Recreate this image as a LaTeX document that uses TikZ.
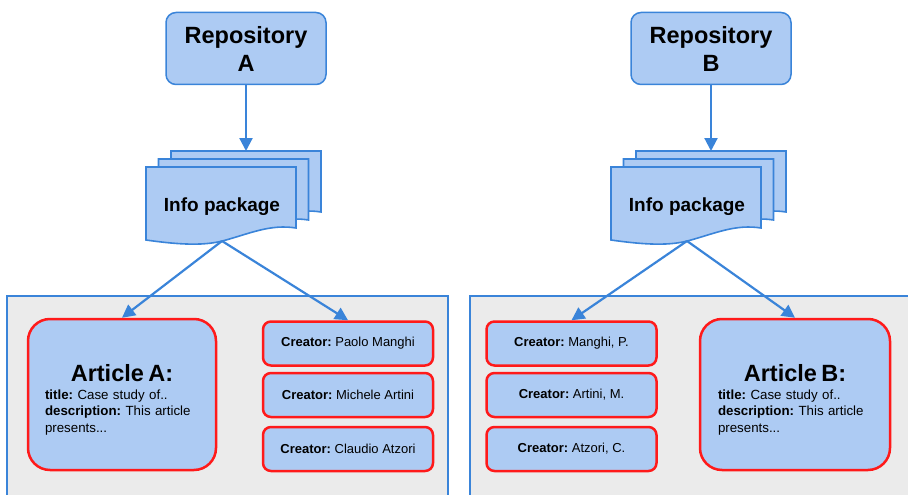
\documentclass[tikz,border=0pt]{standalone}
\usepackage{fontspec}
\setmainfont{Liberation Sans}
\usetikzlibrary{arrows.meta}
\definecolor{boxblue}{HTML}{ADCBF3}
\definecolor{lineblue}{HTML}{3A84D9}
\definecolor{panelgray}{HTML}{EBEBEB}
\definecolor{edgered}{HTML}{FF1A1A}
\frenchspacing

\begin{document}
\begin{tikzpicture}[x=1pt, y=-1pt]
    % Styles
    \tikzstyle{repo} = [draw=lineblue, line width=1.5pt, fill=boxblue, rounded corners=10pt, minimum width=160pt, minimum height=72pt, align=center, font=\fontsize{23.5}{28}\selectfont\bfseries]
    \tikzstyle{docpage} = [draw=lineblue, line width=1.6pt, fill=boxblue]
    \tikzstyle{panel} = [draw=lineblue, line width=2pt, fill=panelgray]
    \tikzstyle{article} = [draw=edgered, line width=2.5pt, fill=boxblue, rounded corners=22pt, minimum width=188pt, minimum height=151pt, text width=154pt, align=left, font=\fontsize{13.3}{16.5}\selectfont]
    \tikzstyle{creator} = [draw=edgered, line width=2.5pt, fill=boxblue, rounded corners=8pt, minimum width=170pt, minimum height=44pt, font=\fontsize{13}{16}\selectfont]
    \tikzstyle{pkg} = [font=\fontsize{19}{22}\selectfont\bfseries]
    \tikzstyle{flow} = [-{Triangle[length=13pt, width=13pt]}, draw=lineblue, line width=2.2pt]
    \tikzset{pics/docstack/.style={code={
        \foreach \k in {2,1,0}
            \path[docpage, shift={(12.5*\k,-8*\k)}] (0,0) -- (150,0) -- (150,61) .. controls (125,57) and (105,66) .. (80,73) .. controls (60,79) and (35,78) .. (0,73) -- cycle;
        \coordinate (-top) at (100,-16);
        \coordinate (-bot) at (76,74);
    }}}

    \useasboundingbox (0,0) rectangle (908,495);
    \clip (0,0) rectangle (908,495);

    % Panels
    \draw[panel] (7,296) rectangle (448,515);
    \draw[panel] (470,296) rectangle (925,515);

    % Side A
    \node[repo] (repoA) at (246,48.5) {Repository\\A};
    \pic (infoA) at (146,167) {docstack};
    \node[pkg] (pkgA) at (222,207) {Info package};
    \node[article] (artA) at (122,394.5) {\makebox[\hsize][c]{\rule{0pt}{27pt}\fontsize{23.5}{20}\selectfont\bfseries Article A:}\\[1.5pt]\textbf{title:} Case study of..\\\textbf{description:} This article\\presents...};
    \node[creator] (crA1) at (348,343.5) {\textbf{Creator:} Paolo Manghi};
    \node[creator] (crA2) at (348,395) {\textbf{Creator:} Michele Artini};
    \node[creator] (crA3) at (348,449) {\textbf{Creator:} Claudio Atzori};

    % Side B
    \node[repo] (repoB) at (711,48.5) {Repository\\B};
    \pic (infoB) at (611,167) {docstack};
    \node[pkg] (pkgB) at (687,207) {Info package};
    \node[article, minimum width=190pt] (artB) at (795,394.5) {\makebox[\hsize][c]{\rule{0pt}{27pt}\fontsize{23.5}{20}\selectfont\bfseries Article B:}\\[1.5pt]\textbf{title:} Case study of..\\\textbf{description:} This article\\presents...};
    \node[creator] (crB1) at (571.5,343.5) {\textbf{Creator:} Manghi, P.};
    \node[creator] (crB2) at (571.5,395) {\textbf{Creator:} Artini, M.};
    \node[creator] (crB3) at (571.5,449) {\textbf{Creator:} Atzori, C.};

    % Flow arrows
    \draw[flow] (repoA) -- (infoA-top);
    \draw[flow] (infoA-bot) -- (artA.north);
    \draw[flow] (infoA-bot) -- (crA1.north);
    \draw[flow] (repoB) -- (infoB-top);
    \draw[flow] (infoB-bot) -- (crB1.north);
    \draw[flow] (infoB-bot) -- (artB.north);
\end{tikzpicture}
\end{document}
